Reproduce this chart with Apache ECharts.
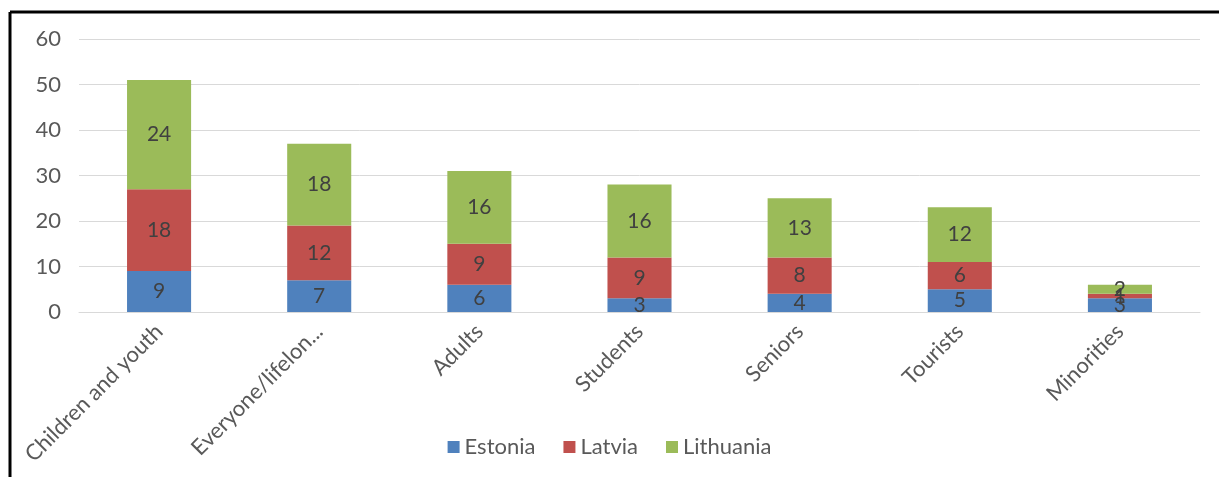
<!DOCTYPE html>
<html>
<head>
<meta charset="utf-8">
<script src="https://cdn.jsdelivr.net/npm/echarts@6/dist/echarts.min.js"></script>
<style>
html,body{margin:0;padding:0;background:#fff;}
#chart{width:1219px;height:477px;}
</style>
</head>
<body>
<div id="chart"></div>
<script>
const categories = ["Children and youth","Everyone/lifelon...","Adults","Students","Seniors","Tourists","Minorities"];
const estonia = [9,7,6,3,4,5,3];
const latvia = [18,12,9,9,8,6,1];
const lithuania = [24,18,16,16,13,12,2];
const yTicks = {min:0,max:60,interval:10};

const FONT = "Lato";
const chart = echarts.init(document.getElementById('chart'), null, {renderer:'canvas'});
const labelStyle = {show:true, position:'inside', color:'#404040', fontSize:21, fontFamily:FONT};
function mk(name, data, color){
  return {name, type:'bar', stack:'total', data, barWidth:'40%',
    itemStyle:{color}, label:labelStyle, emphasis:{disabled:true}};
}
chart.setOption({
  animation:false,
  grid:{left:79,right:19,top:39,bottom:165,containLabel:false},
  legend:{bottom:14,left:'center',itemWidth:12,itemHeight:12,itemGap:28,icon:'rect',
    textStyle:{color:'#595959',fontSize:22,fontFamily:FONT},
    data:['Estonia','Latvia','Lithuania']},
  xAxis:{type:'category',data:categories,
    axisLine:{lineStyle:{color:'#d9d9d9',width:1}},axisTick:{show:false},
    axisLabel:{rotate:45,color:'#595959',fontSize:22,fontFamily:FONT,margin:16,interval:0}},
  yAxis:{type:'value',min:yTicks.min,max:yTicks.max,interval:yTicks.interval,
    axisLine:{show:false},axisTick:{show:false},
    splitLine:{lineStyle:{color:'#d9d9d9',width:1}},
    axisLabel:{color:'#595959',fontSize:22,fontFamily:FONT,margin:18}},
  graphic:[
    {type:'line',shape:{x1:10,y1:12,x2:1219,y2:12},style:{stroke:'#000',lineWidth:3},silent:true},
    {type:'line',shape:{x1:10,y1:12,x2:10,y2:477},style:{stroke:'#000',lineWidth:3},silent:true}
  ],
  series:[mk('Estonia',estonia,'#4f81bd'),mk('Latvia',latvia,'#c0504d'),mk('Lithuania',lithuania,'#9bbb59')]
});
</script>
</body>
</html>
